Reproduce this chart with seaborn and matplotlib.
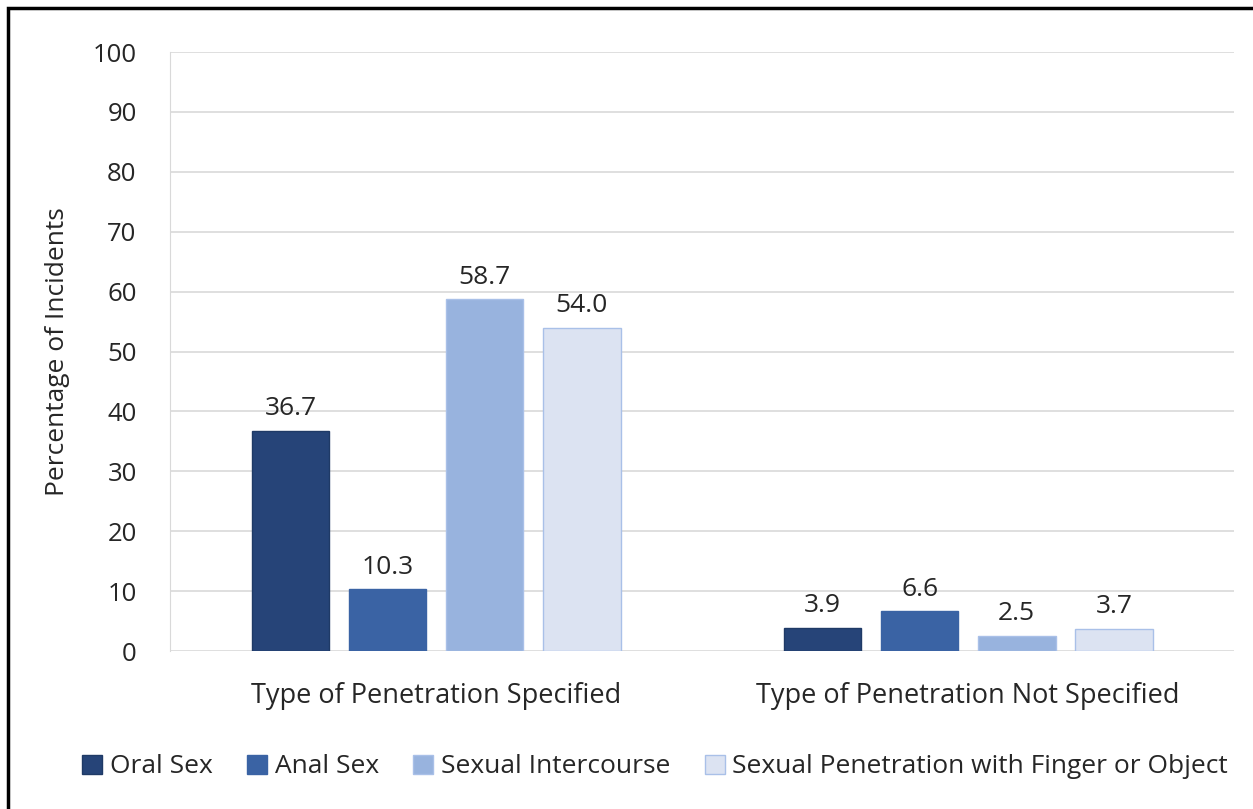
import pandas as pd
import matplotlib.pyplot as plt
import seaborn as sns
from matplotlib.patches import Rectangle, Patch

groups = ["Type of Penetration Specified", "Type of Penetration Not Specified"]
types = ["Oral Sex", "Anal Sex", "Sexual Intercourse", "Sexual Penetration with Finger or Object"]
specified = [36.7, 10.3, 58.7, 54.0]
not_specified = [3.9, 6.6, 2.5, 3.7]
colors = ["#264478", "#3A63A4", "#98B3DE", "#DCE3F2"]
edges = ["#1F3A66", "#3A63A4", "#A9C0E8", "#A9C0E8"]

df = pd.DataFrame({
    "group": [groups[0]] * 4 + [groups[1]] * 4,
    "type": types * 2,
    "value": specified + not_specified,
})

sns.set_style("white")
plt.rcParams["font.family"] = ["Open Sans", "DejaVu Sans"]

fig = plt.figure(figsize=(12.53, 8.09), dpi=100)
ax = fig.add_axes([0.1357, 0.1953, 0.8493, 0.7404])

sns.barplot(data=df, x="group", y="value", hue="type", order=groups, hue_order=types,
            palette=colors, saturation=1, width=0.73, gap=0.2, ax=ax, legend=False)

for i, container in enumerate(ax.containers):
    for bar in container:
        bar.set_edgecolor(edges[i])
        bar.set_linewidth(1)
    ax.bar_label(container, fmt="%.1f", padding=7, fontsize=19)

ax.set_ylim(0, 100)
ax.set_yticks(range(0, 101, 10))
ax.yaxis.grid(True, color="#D9D9D9", linewidth=1.2)
ax.set_axisbelow(True)
for s in ["top", "right", "bottom"]:
    ax.spines[s].set_visible(False)
ax.spines["left"].set_color("#D9D9D9")
ax.tick_params(axis="both", length=0, labelsize=18.5)
ax.tick_params(axis="y", pad=24)
ax.tick_params(axis="x", pad=22, labelsize=19.5)
ax.set_xlabel("")
ax.set_ylabel("Percentage of Incidents", fontsize=19, labelpad=16)

handles = [Patch(facecolor=c, edgecolor=e) for c, e in zip(colors, edges)]
fig.legend(handles, types, loc="center", bbox_to_anchor=(0.523, 0.052), ncol=4, frameon=False,
           fontsize=19, handlelength=0.75, handleheight=0.75, handletextpad=0.3, columnspacing=1.3)

fig.patches.append(Rectangle((8 / 1253, -0.01), 1.02, 1 - 8 / 809 + 0.01, transform=fig.transFigure,
                             fill=False, edgecolor="black", linewidth=2.5))

fig.savefig("out.png", dpi=100)
